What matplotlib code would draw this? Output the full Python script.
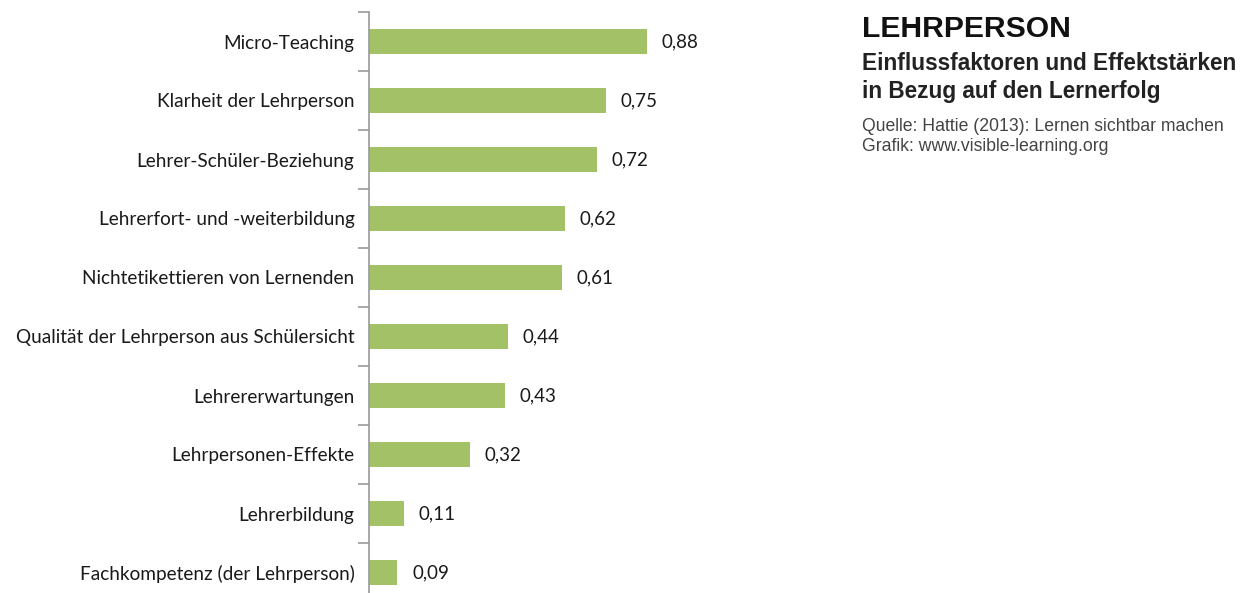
import matplotlib
matplotlib.use("Agg")
import matplotlib.pyplot as plt

categories = ["Micro-Teaching", "Klarheit der Lehrperson", "Lehrer-Schüler-Beziehung",
              "Lehrerfort- und -weiterbildung", "Nichtetikettieren von Lernenden",
              "Qualität der Lehrperson aus Schülersicht", "Lehrererwartungen",
              "Lehrpersonen-Effekte", "Lehrerbildung", "Fachkompetenz (der Lehrperson)"]
values = [0.88, 0.75, 0.72, 0.62, 0.61, 0.44, 0.43, 0.32, 0.11, 0.09]

title = "LEHRPERSON"
subtitle_lines = ["Einflussfaktoren und Effektstärken", "in Bezug auf den Lernerfolg"]
source_lines = ["Quelle: Hattie (2013): Lernen sichtbar machen", "Grafik: www.visible-learning.org"]

W, H = 1252, 593
fig = plt.figure(figsize=(W / 100, H / 100), dpi=100)
ax = fig.add_axes([369 / W, 1 - 602 / H, 316 / W, 590 / H])

n = len(categories)
pos = list(range(n))
ax.barh(pos, values, height=0.41, color="#A3C167", edgecolor="none")
ax.set_ylim(n - 0.5, -0.5)
ax.set_xlim(0, 1)

ax.set_yticks([p - 0.5 for p in pos] + [n - 0.5])
ax.set_yticklabels([])
ax.set_yticks(pos, minor=True)
ax.set_yticklabels(categories, minor=True, fontfamily="Lato", fontsize=13.7, color="#1a1a1a")
ax.tick_params(axis="y", which="major", length=8, width=1.2, color="#999999", direction="out")
ax.tick_params(axis="y", which="minor", length=0, pad=10.5)
ax.set_xticks([])
for s in ["top", "right", "bottom"]:
    ax.spines[s].set_visible(False)
ax.spines["left"].set_color("#999999")
ax.spines["left"].set_linewidth(1.2)

for p, v in zip(pos, values):
    ax.text(v + 0.047, p, f"{v:.2f}".replace(".", ","), va="center", ha="left",
            fontfamily="Lato", fontsize=13.5, color="#1a1a1a")

x0 = 862 / W
fig.text(x0, 1 - 37 / H, title, ha="left", va="baseline", fontfamily="Liberation Sans",
         fontweight="bold", fontsize=21.7, color="#111111")
for i, line in enumerate(subtitle_lines):
    fig.text(x0, 1 - (70 + 28 * i) / H, line, ha="left", va="baseline",
             fontfamily="Liberation Sans", fontweight="bold", fontsize=16.3, color="#222222")
for i, line in enumerate(source_lines):
    fig.text(x0, 1 - (131 + 20 * i) / H, line, ha="left", va="baseline",
             fontfamily="Liberation Sans", fontsize=12.7, color="#444444")

fig.savefig("out.png", dpi=100)
